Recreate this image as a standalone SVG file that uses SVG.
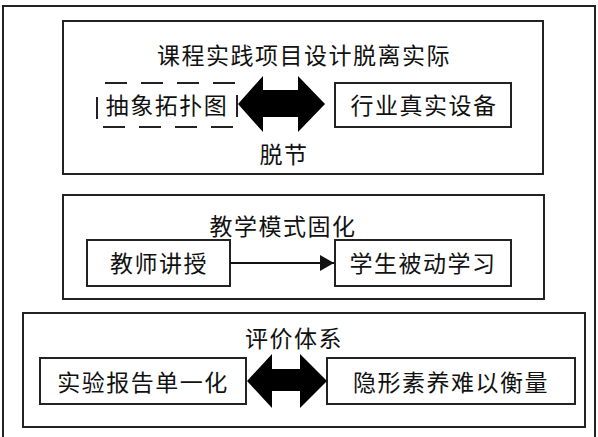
<svg xmlns="http://www.w3.org/2000/svg" width="598" height="437" viewBox="0 0 598 437">
<style>
.frame{fill:#fff;stroke:#222;stroke-width:2}
.box{fill:#fff;stroke:#222;stroke-width:2}
.dash{fill:none;stroke:#222;stroke-width:2;stroke-dasharray:22 14}
.t{font-family:"Noto Sans CJK SC","Noto Sans",sans-serif;font-size:23px;fill:#111;text-anchor:middle;dominant-baseline:central;letter-spacing:1.5px}
.big{fill:#000}
.line{stroke:#111;stroke-width:2;fill:none}
</style>
<defs>
<marker id="ah" viewBox="0 0 14 16" refX="14" refY="8" markerWidth="14" markerHeight="16" markerUnits="userSpaceOnUse" orient="auto">
<path d="M0,0 L14,8 L0,16 Z" fill="#111"/>
</marker>
</defs>
<rect x="3" y="6" width="592" height="445" fill="#fff" stroke="#222" stroke-width="2"/>

<g id="panel1">
<rect class="frame" x="63" y="21" width="480" height="153"/>
<text class="t" x="304" y="54">课程实践项目设计脱离实际</text>
</g>
<g id="abstract-topology">
<rect class="dash" x="97" y="83" width="140" height="44" stroke-dashoffset="-8"/>
<text class="t" x="167" y="104">抽象拓扑图</text>
</g>
<g id="industry-device">
<rect class="box" x="335" y="83" width="176" height="44"/>
<text class="t" x="424" y="104">行业真实设备</text>
</g>
<g id="label-detach">
<text class="t" x="284" y="153">脱节</text>
</g>

<g id="panel2">
<rect class="frame" x="63" y="195" width="481" height="104"/>
<text class="t" x="283" y="225">教学模式固化</text>
</g>
<g id="teacher">
<rect class="box" x="87" y="240" width="143" height="46"/>
<text class="t" x="159" y="262">教师讲授</text>
</g>
<g id="student">
<rect class="box" x="335" y="240" width="176" height="46"/>
<text class="t" x="423" y="262">学生被动学习</text>
</g>

<g id="panel3">
<rect class="frame" x="23" y="313" width="562" height="114"/>
<text class="t" x="294" y="337">评价体系</text>
</g>
<g id="report">
<rect class="box" x="40" y="358" width="206" height="46"/>
<text class="t" x="143" y="381">实验报告单一化</text>
</g>
<g id="hidden-literacy">
<rect class="box" x="327" y="358" width="248" height="46"/>
<text class="t" x="451" y="381">隐形素养难以衡量</text>
</g>

<g id="connectors">
<path class="big" d="M238,104 L263,76 L263,90 L298,90 L298,76 L325,104 L298,132 L298,117 L263,117 L263,132 Z"/>
<line class="line" x1="230" y1="263" x2="334" y2="263" marker-end="url(#ah)"/>
<path class="big" d="M247,381 L272,354 L272,369 L300,369 L300,354 L327,381 L300,408 L300,391 L272,391 L272,408 Z"/>
</g>
</svg>
